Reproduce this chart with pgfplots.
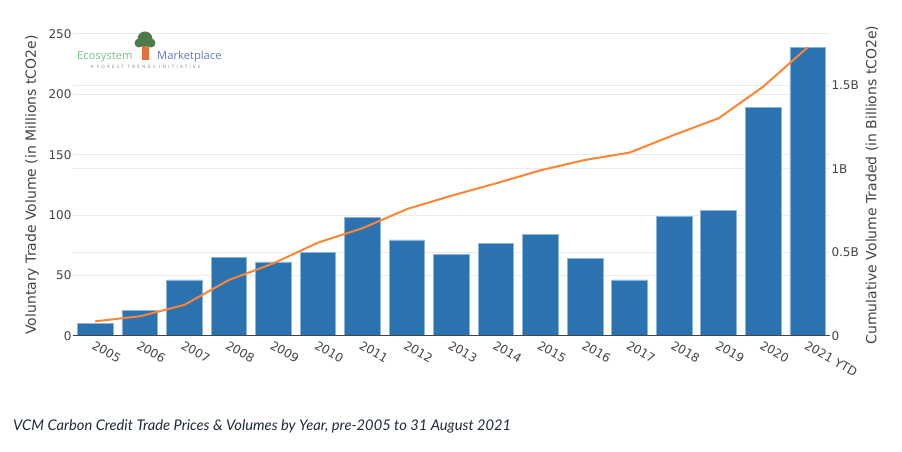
\documentclass[border=0pt]{standalone}
\usepackage{fontspec}
\setmainfont{DejaVu Sans}
\newfontfamily\latofont{Lato}
\newfontfamily\logofont{Open Sans}
\usepackage{pgfplots}
\usepackage{pgfplotstable}
\pgfplotsset{compat=1.18}
\definecolor{txt}{HTML}{444444}
\definecolor{barblue}{HTML}{2A73B0}
\definecolor{baredge}{HTML}{8FB6DA}
\definecolor{lineorange}{HTML}{FF8534}
\definecolor{gridc}{HTML}{EBEBEB}
\definecolor{capc}{HTML}{1E2B3C}
\definecolor{ecogreen}{HTML}{79C17F}
\definecolor{mktblue}{HTML}{5A7CC0}
\definecolor{treegreen}{HTML}{4E7A4B}
\definecolor{treeorange}{HTML}{E2713F}

\pgfplotstableread{
x vol cum
0 10.5 0.088
1 21 0.118
2 46.4 0.186
3 64.8 0.335
4 61.3 0.435
5 69 0.559
6 98.5 0.645
7 79.5 0.760
8 67.6 0.840
9 76.4 0.914
10 83.9 0.992
11 64 1.054
12 46.4 1.098
13 99.3 1.204
14 104.3 1.304
15 189 1.493
16 239 1.729
}\data

\pgfplotsset{common/.style={
  scale only axis, width=757pt, height=302pt,
  at={(73pt,116pt)}, anchor=south west,
  xmin=-0.5, xmax=16.5,
  axis line style={draw=none}, tick style={draw=none},
  ticklabel style={font=\fontsize{12}{14}\selectfont, text=txt},
  label style={font=\fontsize{14}{16}\selectfont, text=txt},
  /pgf/number format/assume math mode=true,
  grid style={gridc, line width=1pt},
}}

\begin{document}
\begin{tikzpicture}
\path[use as bounding box] (0,0) rectangle (902pt,452pt);
% right-scale grid and labels
\begin{axis}[common,
  ymin=0, ymax=1.808,
  ytick={0,0.5,1,1.5}, yticklabels={0,0.5B,1B,1.5B},
  yticklabel pos=right, xtick=\empty,
  yticklabel style={anchor=west, xshift=-2pt},
  ymajorgrids,
  ylabel={Cumulative Volume Traded (in Billions tCO2e)},
  ylabel style={at={(axis description cs:1.0555,0.5)}, anchor=center},
]
\addplot[draw=none] coordinates {(0,0)};
\end{axis}
% bars
\begin{axis}[common,
  ymin=0, ymax=250,
  ytick={0,50,...,250},
  yticklabel style={anchor=east, xshift=2pt},
  ymajorgrids,
  xtick={0,...,16},
  xticklabels={2005,2006,2007,2008,2009,2010,2011,2012,2013,2014,2015,2016,2017,2018,2019,2020,2021 YTD},
  xticklabel style={rotate=-30, anchor=north west, xshift=-1pt, yshift=0pt},
  ylabel={Voluntary Trade Volume (in Millions tCO2e)},
  ylabel style={at={(axis description cs:-0.0542,0.5)}, anchor=center},
]
\addplot[ybar, bar width=0.8, fill=barblue, draw=baredge, line width=0.8pt] table[x=x,y=vol]{\data};
\draw[txt, line width=1pt] (rel axis cs:0,0) -- (rel axis cs:1,0);
\end{axis}
% cumulative line
\begin{axis}[common, ymin=0, ymax=1.808, hide axis]
\addplot[lineorange, line width=2pt, no marks] table[x=x,y=cum]{\data};
\end{axis}
% logo
\fill[treeorange] (142pt,392pt) -- (149pt,392pt) -- (149pt,404pt) -- (152pt,410pt) -- (150pt,411pt) -- (146.5pt,405pt) -- (143pt,411pt) -- (140pt,410pt) -- (142pt,404pt) -- cycle;
\fill[treegreen] (145pt,413pt) circle (7.5pt);
\fill[treegreen] (139pt,409pt) circle (4.5pt);
\fill[treegreen] (151pt,409pt) circle (4.5pt);
\fill[treeorange] (142pt,392pt) rectangle (149pt,402pt);
\node[anchor=base west, text=ecogreen, font=\logofont\fontsize{11.2}{13}\selectfont, inner sep=0] at (77pt,392pt) {Ecosystem};
\node[anchor=base west, text=mktblue, font=\logofont\fontsize{11.2}{13}\selectfont, inner sep=0] at (157pt,392pt) {Marketplace};
\node[anchor=center, text=gray, font=\logofont\fontsize{4.5}{5}\selectfont\addfontfeature{LetterSpace=50}, inner sep=0] at (145.5pt,385.5pt) {A FOREST TRENDS INITIATIVE};
% caption
\node[anchor=west, text=capc, font=\latofont\itshape\fontsize{14.7}{17}\selectfont, inner sep=0] at (13pt,26pt) {VCM Carbon Credit Trade Prices \& Volumes by Year, pre-2005 to 31 August 2021};
\end{tikzpicture}
\end{document}
